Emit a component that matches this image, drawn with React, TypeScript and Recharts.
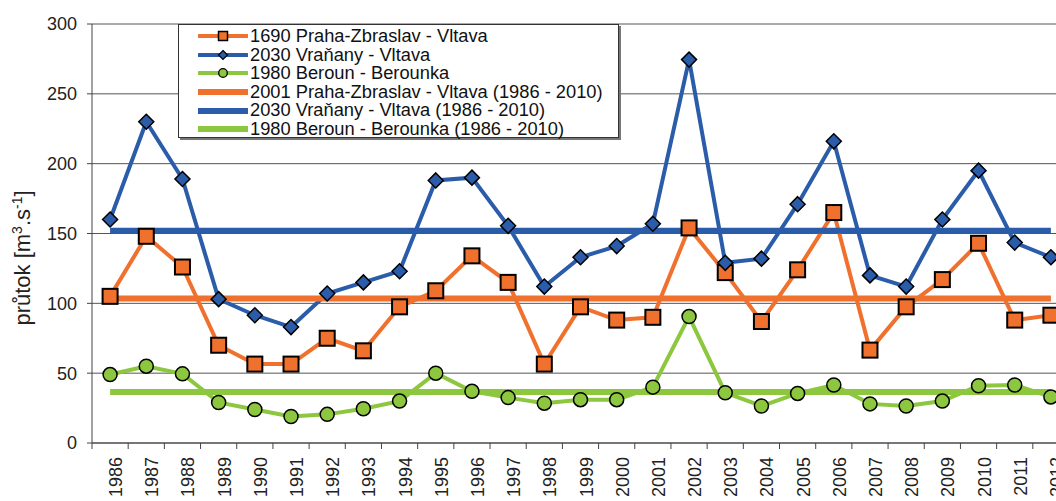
import React from "react";
import { LineChart, Line, XAxis, YAxis, CartesianGrid } from "recharts";

const years = [
  "1986", "1987", "1988", "1989", "1990", "1991", "1992", "1993", "1994",
  "1995", "1996", "1997", "1998", "1999", "2000", "2001", "2002", "2003",
  "2004", "2005", "2006", "2007", "2008", "2009", "2010", "2011", "2012",
];

// 1690 Praha-Zbraslav - Vltava
const zbraslav = [
  105, 148, 126, 70, 56.5, 56.5, 75, 66, 97.5, 109, 134, 115, 56.5, 97.5,
  88, 90, 154, 122, 87, 124, 165, 66.5, 97.5, 117, 143, 88, 91.5,
];
// 2030 Vraňany - Vltava
const vranany = [
  160, 230, 189, 103, 91.5, 83, 107, 115, 123, 188, 190, 155.5, 112, 133,
  141, 157, 274.5, 129, 132, 171, 216, 120, 112, 160, 195, 143.5, 133,
];
// 1980 Beroun - Berounka
const beroun = [
  49, 55, 49.5, 29, 24, 19, 20.5, 24.5, 30, 50, 37, 32.5, 28.5, 31, 31,
  40, 90.5, 36, 26.5, 35.5, 41.5, 28, 26.5, 30, 41, 41.5, 33,
];

// long-term means 1986 - 2010
const avgZbraslav = 103.5;
const avgVranany = 152;
const avgBeroun = 36.5;

const yTicks = [0, 50, 100, 150, 200, 250, 300];

const legendNames = [
  "1690 Praha-Zbraslav - Vltava",
  "2030 Vraňany - Vltava",
  "1980 Beroun - Berounka",
  "2001 Praha-Zbraslav - Vltava (1986 - 2010)",
  "2030 Vraňany - Vltava (1986 - 2010)",
  "1980 Beroun - Berounka (1986 - 2010)",
];

const ORANGE = "#f0702d";
const BLUE = "#2a5caa";
const GREEN = "#8dc63f";
const FONT = "'Liberation Sans', Arial, sans-serif";

const data = years.map((year, i) => ({
  year,
  zbraslav: zbraslav[i],
  vranany: vranany[i],
  beroun: beroun[i],
  zbraslavAvg: avgZbraslav,
  vrananyAvg: avgVranany,
  berounAvg: avgBeroun,
}));

const CHART_W = 1080;
const CHART_H = 512;
const PLOT_LEFT = 92;
const PLOT_RIGHT = 11;
const BAND = (CHART_W - PLOT_LEFT - PLOT_RIGHT) / years.length;

const squareDot = (props: any) => {
  const { cx, cy, index } = props;
  if (cx == null || cy == null) return <g key={`sq-${index}`} />;
  return (
    <rect
      key={`sq-${index}`}
      x={cx - 7.5}
      y={cy - 7.5}
      width={15}
      height={15}
      fill={ORANGE}
      stroke="#000"
      strokeWidth={2}
    />
  );
};

const diamondDot = (props: any) => {
  const { cx, cy, index } = props;
  if (cx == null || cy == null) return <g key={`dm-${index}`} />;
  const r = 7.5;
  return (
    <path
      key={`dm-${index}`}
      d={`M${cx},${cy - r}L${cx + r},${cy}L${cx},${cy + r}L${cx - r},${cy}Z`}
      fill={BLUE}
      stroke="#000"
      strokeWidth={1.5}
    />
  );
};

const circleDot = (props: any) => {
  const { cx, cy, index } = props;
  if (cx == null || cy == null) return <g key={`ci-${index}`} />;
  return (
    <circle
      key={`ci-${index}`}
      cx={cx}
      cy={cy}
      r={7}
      fill={GREEN}
      stroke="#000"
      strokeWidth={1.5}
    />
  );
};

const YearTick = (props: any) => {
  const { x, payload, index } = props;
  const axisY = CHART_H - 69;
  const left = x - BAND / 2;
  return (
    <g>
      <line x1={left} y1={axisY} x2={left} y2={axisY + 6} stroke="#444" />
      {index === years.length - 1 && (
        <line x1={x + BAND / 2} y1={axisY} x2={x + BAND / 2} y2={axisY + 6} stroke="#444" />
      )}
      <text
        x={x + 12}
        y={axisY + 14}
        transform={`rotate(-90, ${x + 12}, ${axisY + 14})`}
        textAnchor="end"
        fontSize={18}
        fontFamily={FONT}
        fill="#222"
      >
        {payload.value}
      </text>
    </g>
  );
};

const YLabel = () => (
  <text
    x={30}
    y={258}
    transform="rotate(-90, 30, 258)"
    textAnchor="middle"
    fontSize={22}
    fontFamily={FONT}
    fill="#222"
  >
    průtok [m
    <tspan fontSize={14} dy={-8}>3</tspan>
    <tspan dy={8}>.s</tspan>
    <tspan fontSize={14} dy={-8}>-1</tspan>
    <tspan dy={8}>]</tspan>
  </text>
);

const LegendSample = ({ i }: { i: number }) => {
  const color = [ORANGE, BLUE, GREEN][i % 3];
  const w = i < 3 ? 4 : 6;
  return (
    <svg width={50} height={12} style={{ display: "block" }}>
      <line x1={1} y1={6} x2={49} y2={6} stroke={color} strokeWidth={w} strokeLinecap="round" />
      {i === 0 && <rect x={20.5} y={1.5} width={9} height={9} fill={ORANGE} stroke="#000" strokeWidth={1.5} />}
      {i === 1 && <path d="M25,1.5L29.5,6L25,10.5L20.5,6Z" fill={BLUE} stroke="#000" strokeWidth={1.2} />}
      {i === 2 && <circle cx={25} cy={6} r={4.3} fill={GREEN} stroke="#000" strokeWidth={1.3} />}
    </svg>
  );
};

export default function App() {
  return (
    <div
      style={{
        position: "fixed",
        left: 0,
        top: 0,
        width: 1056,
        height: 501,
        overflow: "hidden",
        background: "#fff",
        fontFamily: FONT,
      }}
    >
      <LineChart
        width={CHART_W}
        height={CHART_H}
        data={data}
        margin={{ top: 24, right: PLOT_RIGHT, left: 0, bottom: 0 }}
      >
        <CartesianGrid vertical={false} stroke="#555" strokeWidth={1} />
        <XAxis
          dataKey="year"
          scale="band"
          interval={0}
          height={69}
          tickLine={false}
          axisLine={{ stroke: "#444" }}
          tick={<YearTick />}
        />
        <YAxis
          width={PLOT_LEFT}
          domain={[0, 300]}
          ticks={yTicks}
          tickSize={5}
          tickMargin={10}
          axisLine={{ stroke: "#444" }}
          tickLine={{ stroke: "#444" }}
          tick={{ fontSize: 18, fill: "#222", fontFamily: FONT }}
          label={<YLabel />}
        />
        <Line dataKey="zbraslav" stroke={ORANGE} strokeWidth={4} dot={squareDot} isAnimationActive={false} />
        <Line dataKey="vranany" stroke={BLUE} strokeWidth={4} dot={diamondDot} isAnimationActive={false} />
        <Line dataKey="beroun" stroke={GREEN} strokeWidth={4} dot={circleDot} isAnimationActive={false} />
        <Line dataKey="zbraslavAvg" stroke={ORANGE} strokeWidth={6} dot={false} isAnimationActive={false} />
        <Line dataKey="vrananyAvg" stroke={BLUE} strokeWidth={6} dot={false} isAnimationActive={false} />
        <Line dataKey="berounAvg" stroke={GREEN} strokeWidth={6} dot={false} isAnimationActive={false} />
      </LineChart>
      <div
        style={{
          position: "absolute",
          left: 178,
          top: 24,
          width: 441,
          height: 114,
          background: "#fff",
          border: "1px solid #333",
          boxShadow: "2px 2px 0 #777",
          boxSizing: "border-box",
          paddingTop: 2,
        }}
      >
        {legendNames.map((name, i) => (
          <div
            key={name}
            style={{
              display: "flex",
              alignItems: "center",
              height: 18.6,
              fontSize: 18.3,
              color: "#111",
              whiteSpace: "nowrap",
            }}
          >
            <div style={{ marginLeft: 19, marginRight: 2 }}>
              <LegendSample i={i} />
            </div>
            <div style={{ height: 18.6, lineHeight: "18.6px", overflow: "visible" }}>{name}</div>
          </div>
        ))}
      </div>
    </div>
  );
}
